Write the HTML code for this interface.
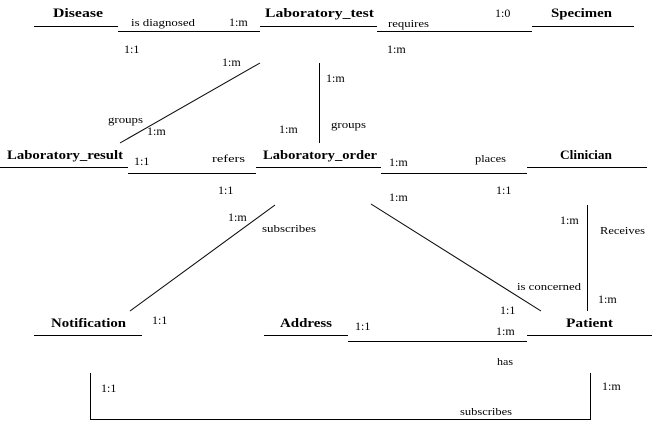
<!DOCTYPE html>
<html><head><meta charset="utf-8"><style>
html,body{margin:0;padding:0;background:#fff;}
svg{display:block;}
.e{font-family:"Liberation Serif",serif;font-weight:bold;font-size:13px;fill:#000;}
.l{font-family:"Liberation Serif",serif;font-size:11px;fill:#000;}
.c{font-family:"Liberation Serif",serif;font-size:12px;fill:#000;}
line,polyline{stroke:#000;stroke-width:1;fill:none;}
</style></head><body>
<svg width="652" height="421" viewBox="0 0 652 421">
<text class="e" x="53" y="17" textLength="50" lengthAdjust="spacingAndGlyphs">Disease</text>
<line x1="34" y1="26.5" x2="118" y2="26.5"/>
<line x1="118" y1="31.5" x2="260" y2="31.5"/>
<text class="l" x="131" y="26" textLength="64" lengthAdjust="spacingAndGlyphs">is diagnosed</text>
<text class="c" x="229" y="26">1:m</text>
<text class="e" x="265" y="17" textLength="109" lengthAdjust="spacingAndGlyphs">Laboratory_test</text>
<line x1="260" y1="26.5" x2="377" y2="26.5"/>
<line x1="377" y1="31.5" x2="532" y2="31.5"/>
<text class="l" x="388" y="27" textLength="41" lengthAdjust="spacingAndGlyphs">requires</text>
<text class="c" x="495" y="17">1:0</text>
<text class="e" x="551" y="17" textLength="61" lengthAdjust="spacingAndGlyphs">Specimen</text>
<line x1="532" y1="26.5" x2="634" y2="26.5"/>
<text class="c" x="124" y="53">1:1</text>
<text class="c" x="387" y="53">1:m</text>
<text class="c" x="222" y="66">1:m</text>
<text class="c" x="326" y="82">1:m</text>
<line x1="260" y1="63" x2="120" y2="143"/>
<text class="l" x="108" y="123" textLength="35" lengthAdjust="spacingAndGlyphs">groups</text>
<text class="c" x="147" y="135">1:m</text>
<line x1="319.5" y1="63" x2="319.5" y2="143"/>
<text class="c" x="279" y="133">1:m</text>
<text class="l" x="331" y="128" textLength="35" lengthAdjust="spacingAndGlyphs">groups</text>
<text class="e" x="7" y="159" textLength="116" lengthAdjust="spacingAndGlyphs">Laboratory_result</text>
<line x1="0" y1="167.5" x2="128" y2="167.5"/>
<line x1="128" y1="173.5" x2="256" y2="173.5"/>
<text class="c" x="134" y="165">1:1</text>
<text class="l" x="212" y="162" textLength="33" lengthAdjust="spacingAndGlyphs">refers</text>
<text class="e" x="263" y="159" textLength="114" lengthAdjust="spacingAndGlyphs">Laboratory_order</text>
<line x1="256" y1="167.5" x2="381" y2="167.5"/>
<line x1="381" y1="173.5" x2="527" y2="173.5"/>
<text class="c" x="389" y="166">1:m</text>
<text class="l" x="475" y="162" textLength="31" lengthAdjust="spacingAndGlyphs">places</text>
<text class="e" x="560" y="159" textLength="52" lengthAdjust="spacingAndGlyphs">Clinician</text>
<line x1="527" y1="167.5" x2="647" y2="167.5"/>
<text class="c" x="218" y="194">1:1</text>
<text class="c" x="389" y="201">1:m</text>
<text class="c" x="496" y="194">1:1</text>
<line x1="275" y1="205" x2="130" y2="311"/>
<text class="c" x="228" y="221">1:m</text>
<text class="l" x="262" y="232" textLength="54" lengthAdjust="spacingAndGlyphs">subscribes</text>
<line x1="371" y1="204" x2="541" y2="311"/>
<text class="l" x="517" y="290" textLength="64" lengthAdjust="spacingAndGlyphs">is concerned</text>
<text class="c" x="500" y="314">1:1</text>
<line x1="587.5" y1="205" x2="587.5" y2="311"/>
<text class="c" x="560" y="224">1:m</text>
<text class="l" x="600" y="234" textLength="45" lengthAdjust="spacingAndGlyphs">Receives</text>
<text class="c" x="598" y="303">1:m</text>
<text class="e" x="51" y="327" textLength="75" lengthAdjust="spacingAndGlyphs">Notification</text>
<line x1="34" y1="335.5" x2="142" y2="335.5"/>
<text class="c" x="152" y="324">1:1</text>
<text class="e" x="280" y="327" textLength="52" lengthAdjust="spacingAndGlyphs">Address</text>
<line x1="264" y1="335.5" x2="348" y2="335.5"/>
<line x1="348" y1="341.5" x2="527" y2="341.5"/>
<text class="c" x="355" y="330">1:1</text>
<text class="c" x="496" y="335">1:m</text>
<text class="e" x="566" y="327" textLength="47" lengthAdjust="spacingAndGlyphs">Patient</text>
<line x1="527" y1="335.5" x2="652" y2="335.5"/>
<text class="l" x="497" y="365" textLength="16" lengthAdjust="spacingAndGlyphs">has</text>
<polyline points="90.5,373 90.5,419.5 590.5,419.5 590.5,373"/>
<text class="c" x="101" y="392">1:1</text>
<text class="c" x="602" y="390">1:m</text>
<text class="l" x="460" y="415" textLength="52" lengthAdjust="spacingAndGlyphs">subscribes</text>
</svg>
</body></html>
